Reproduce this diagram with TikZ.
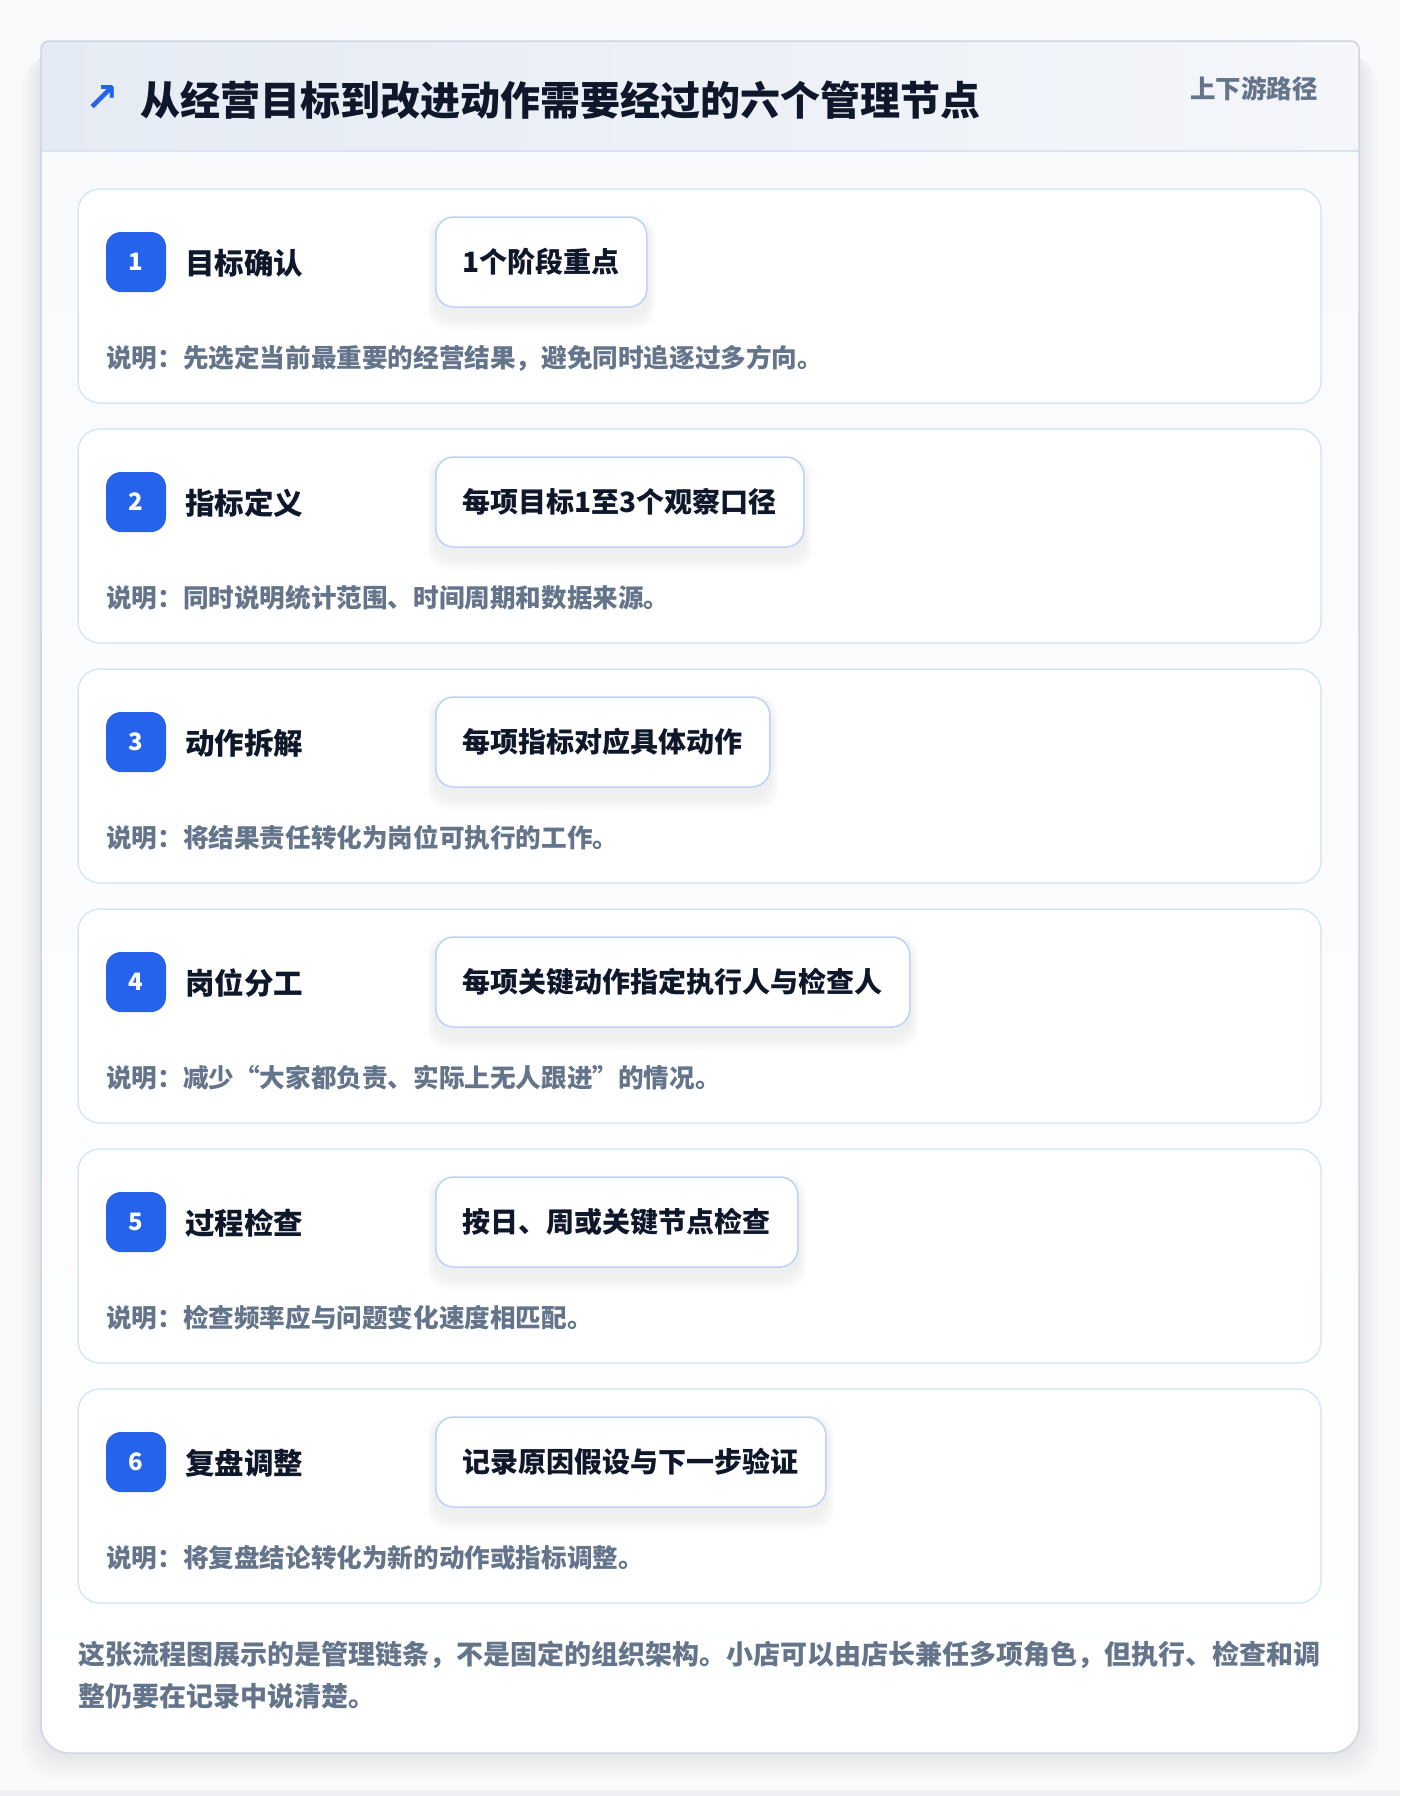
\documentclass[tikz,border=0pt]{standalone}
\usepackage{fontspec}
\setmainfont{Noto Sans CJK SC}
\newfontfamily\symfont{DejaVu Sans}
\definecolor{pagebg}{HTML}{F9FAFB}
\definecolor{pagestrip}{HTML}{EEF0F3}
\definecolor{bodybg}{HTML}{F8FAFC}
\definecolor{cardline}{HTML}{CDD6E2}
\definecolor{hdrL}{HTML}{E5EBF4}
\definecolor{hdrR}{HTML}{F4F6FA}
\definecolor{hdrline}{HTML}{D8E4F4}
\definecolor{stepline}{HTML}{D9E6F7}
\definecolor{pillline}{HTML}{BCD3F2}
\definecolor{accent}{HTML}{2563EB}
\definecolor{ink}{HTML}{0F172A}
\definecolor{muted}{HTML}{64748B}
\pgfdeclarelayer{bglayer}
\pgfdeclarelayer{shadowlayer}
\pgfsetlayers{bglayer,shadowlayer,main}
\tikzset{
  stepcard/.style={draw=stepline, line width=1.5pt, fill=white, rounded corners=22pt},
  badge/.style={fill=accent, rounded corners=15pt, minimum width=60pt, minimum height=60pt, inner sep=0pt,
    text=white, font=\fontsize{24}{26}\selectfont\bfseries},
  steptitle/.style={anchor=west, inner sep=0pt, text=ink, font=\fontsize{29.5}{34}\selectfont\bfseries},
  pillbox/.style={anchor=west, draw=pillline, line width=1.5pt, fill=white, rounded corners=18pt,
    minimum height=90pt, inner xsep=27pt, inner ysep=0pt, text=ink, font=\fontsize{28}{32}\selectfont\bfseries},
  desctext/.style={anchor=west, inner sep=0pt, text=muted, font=\fontsize{25.6}{28}\selectfont\bfseries},
  foot/.style={anchor=west, inner sep=0pt, text=muted, font=\fontsize{27}{30}\selectfont\bfseries},
}
\begin{document}
\begin{tikzpicture}[x=1pt,y=-1pt]
\useasboundingbox (0,0) rectangle (1400,1796);
\begin{pgfonlayer}{bglayer}
\fill[pagebg] (0,0) rectangle (1400,1796);
\fill[pagestrip] (0,1790) rectangle (1400,1796);
% outer card shadow
\foreach \k in {1,...,10}{
  \fill[black, opacity=0.009, rounded corners=32pt] (41-2*\k,45+\k) rectangle (1359+2*\k,1753+2.5*\k);
}
% outer card
\begin{scope}
\clip (41,300) [rounded corners=8pt] -- (41,41) -- (1359,41) -- (1359,300) [rounded corners=28pt] -- (1359,1753) -- (41,1753) -- cycle;
\shade[top color=bodybg, bottom color=white] (41,151) rectangle (1359,1753);
\shade[left color=hdrL, right color=hdrR] (41,41) rectangle (1359,151);
\end{scope}
\draw[hdrline, line width=1.5pt] (41,151) -- (1359,151);
\draw[cardline, line width=1.5pt] (41,300) [rounded corners=8pt] -- (41,41) -- (1359,41) -- (1359,300) [rounded corners=28pt] -- (1359,1753) -- (41,1753) -- cycle;
\end{pgfonlayer}
% header
\node[inner sep=0pt, text=accent, font=\symfont\bfseries\fontsize{40}{42}\selectfont] (icon) at (102,99) {↗};
\node[anchor=west, inner sep=0pt, text=ink, font=\fontsize{40}{46}\selectfont\bfseries] (title) at (140,100) {从经营目标到改进动作需要经过的六个管理节点};
\node[anchor=east, inner sep=0pt, text=muted, font=\fontsize{25.5}{30}\selectfont\bfseries] (tag) at (1318,89) {上下游路径};
% steps
\foreach \i/\ttl/\pilltext/\desc in {
  0/目标确认/1个阶段重点/说明：先选定当前最重要的经营结果，避免同时追逐过多方向。,
  1/指标定义/每项目标1至3个观察口径/说明：同时说明统计范围、时间周期和数据来源。,
  2/动作拆解/每项指标对应具体动作/说明：将结果责任转化为岗位可执行的工作。,
  3/岗位分工/每项关键动作指定执行人与检查人/说明：减少“大家都负责、实际上无人跟进”的情况。,
  4/过程检查/按日、周或关键节点检查/说明：检查频率应与问题变化速度相匹配。,
  5/复盘调整/记录原因假设与下一步验证/说明：将复盘结论转化为新的动作或指标调整。}{
  \pgfmathsetmacro\ytop{189+240*\i}
  \pgfmathtruncatemacro\n{\i+1}
  \begin{pgfonlayer}{bglayer}
    \path[stepcard] (78,\ytop) rectangle (1321,\ytop+214);
  \end{pgfonlayer}
  \node[badge] (b\n) at (136,\ytop+73) {\n};
  \node[steptitle] (t\n) at (185,\ytop+74) {\ttl};
  \node[pillbox] (p\n) at (435,\ytop+73) {\pilltext};
  \begin{pgfonlayer}{shadowlayer}
    \foreach \s in {1,...,8}{
      \fill[black, opacity=0.008, rounded corners=20pt] ([xshift=-\s pt, yshift=-6pt+\s pt]p\n.north west) rectangle ([xshift=\s pt, yshift=-8pt-1.8*\s pt]p\n.south east);
    }
  \end{pgfonlayer}
  \node[desctext] (d\n) at (106,\ytop+169) {\desc};
}
% footer
\node[foot] (f1) at (78,1655) {这张流程图展示的是管理链条，不是固定的组织架构。小店可以由店长兼任多项角色，但执行、检查和调};
\node[foot] (f2) at (78,1696) {整仍要在记录中说清楚。};
\end{tikzpicture}
\end{document}
